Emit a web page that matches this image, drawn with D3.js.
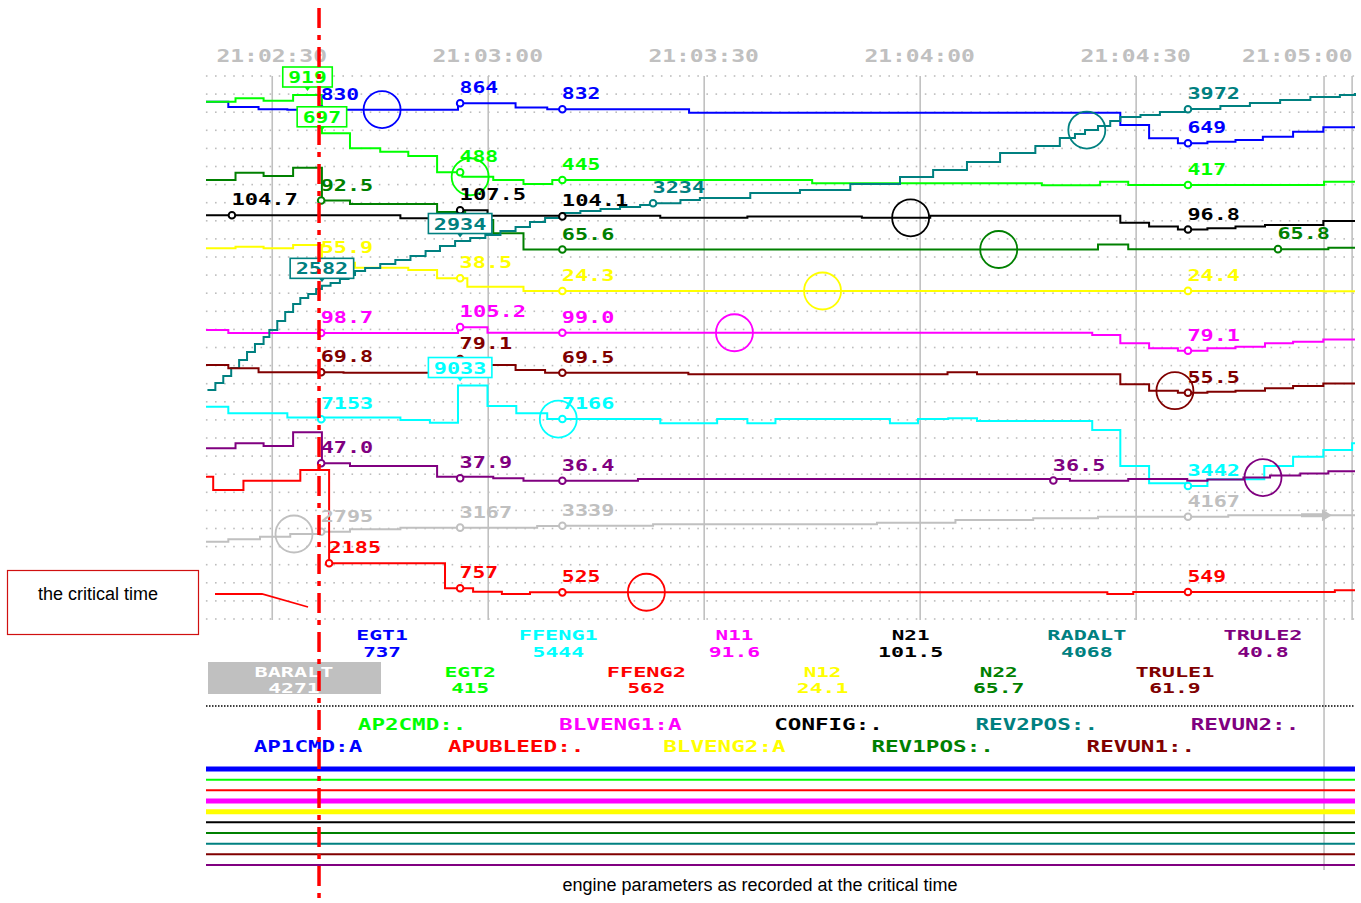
<!DOCTYPE html>
<html>
<head>
<meta charset="utf-8">
<script src="https://cdn.jsdelivr.net/npm/d3@7"></script>
<style>
  body { margin: 0; background: #fff; }
  .mono { font-family: "DejaVu Sans Mono", monospace; font-weight: bold; }
  .sans { font-family: "Liberation Sans", Arial, sans-serif; }
</style>
</head>
<body>
<svg id="chart" width="1361" height="903"></svg>
<script>
// --- Data (times are seconds after 21:02:00) ---
const tickLabels = ["21:02:30", "21:03:00", "21:03:30", "21:04:00", "21:04:30", "21:05:00"];
const criticalTime = 36.5;
const cursorTime = 176.1;

const baralt = [[20.8,1880],[23.9,2100],[28.3,2337],[32.5,2585],[36.7,2795],[40.8,3015],[47.8,3167],[66.8,3317],[70.3,3339],[82.9,3472],[114.0,3619],[124.9,3866],[135.7,4021],[144.7,4167],[162.8,4300],[180.4,4300]];
const egt1 = [[20.8,873],[23.9,844],[28.1,832],[32.1,830],[55.8,864],[63.8,842],[68.2,832],[87.9,813],[147.8,747],[151.8,676],[155.8,649],[159.9,658],[163.8,667],[167.6,684],[171.8,711],[176.0,735],[180.4,735]];
const egt2 = [[20.8,882],[24.9,901],[28.8,887],[32.9,919],[36.9,705],[40.8,622],[45.0,603],[48.9,579],[52.9,488],[56.4,463],[60.7,445],[64.9,423],[68.9,445],[105.0,427],[136.9,415],[145.0,435],[148.9,417],[176.1,435],[180.4,435]];
const ffeng1 = [[20.8,7854],[23.9,7487],[32.1,7250],[47.8,7114],[51.9,6964],[55.8,9033],[59.9,7892],[63.9,7487],[68.2,7166],[83.9,6931],[91.8,7166],[96.0,6931],[99.9,7166],[115.8,6931],[119.7,7166],[123.9,7209],[127.9,7058],[143.9,6558],[147.8,4556],[151.8,3595],[156.8,3442],[159.9,3817],[167.8,4556],[171.8,5074],[176.0,5446],[180.0,5819],[180.4,5819]];
const ffeng2 = [[20.8,7130],[21.8,6370],[26.0,6900],[33.9,7512],[37.9,2185],[54.0,757],[57.9,563],[61.9,432],[65.8,530],[146.0,432],[149.6,549],[177.6,640],[180.4,640]];
const n11 = [[20.8,102.0],[23.9,98.7],[55.8,105.2],[59.9,99.0],[143.9,96.5],[147.8,87.3],[151.8,81.8],[155.8,79.1],[159.9,81.8],[163.8,83.5],[167.9,87.3],[171.8,89.1],[176.0,91.6],[180.4,91.6]];
const n12 = [[20.8,72.1],[24.9,73.8],[28.8,72.1],[32.9,75.7],[36.9,55.9],[41.5,50.4],[48.9,47.8],[52.9,38.5],[57.1,29.1],[64.9,24.3],[148.9,24.4],[176.0,24.1],[180.4,24.1]];
const n21 = [[20.8,104.7],[47.8,103.0],[51.9,103.5],[55.8,107.5],[59.9,104.4],[83.9,103.3],[96.0,104.0],[111.9,103.3],[121.4,104.4],[147.8,100.6],[151.8,98.4],[155.8,96.8],[159.9,97.5],[163.8,98.4],[167.9,99.3],[176.0,101.5],[180.4,101.5]];
const n22 = [[20.8,103.8],[24.9,107.8],[28.8,105.9],[32.9,110.5],[36.9,92.5],[40.8,90.6],[52.9,86.2],[56.8,81.8],[60.7,74.5],[64.9,65.6],[144.7,68.4],[148.9,65.8],[176.7,66.6],[180.4,66.6]];
const radalt = [[21.0,1768],[22.1,1823],[23.2,1878],[24.3,1941],[25.4,2004],[26.5,2067],[27.6,2130],[28.8,2184],[29.6,2239],[30.7,2310],[31.8,2381],[32.9,2443],[33.9,2491],[35.0,2522],[36.1,2561],[36.9,2586],[38.1,2608],[39.4,2640],[40.6,2671],[41.5,2703],[42.9,2726],[45.0,2758],[47.1,2789],[49.2,2820],[51.3,2860],[53.3,2899],[55.4,2938],[57.5,2962],[59.6,2985],[61.7,3017],[63.8,3048],[65.8,3087],[67.9,3119],[70.3,3158],[72.8,3174],[75.6,3189],[78.3,3205],[81.1,3221],[82.9,3234],[86.7,3260],[89.4,3276],[96.4,3315],[103.3,3338],[110.3,3386],[117.2,3441],[121.8,3496],[126.5,3558],[131.1,3629],[136.0,3683],[139.4,3747],[141.5,3778],[142.9,3809],[144.7,3841],[146.4,3880],[147.8,3911],[150.6,3927],[153.3,3950],[157.1,3974],[161.7,3998],[165.8,4021],[170.0,4045],[174.2,4069],[178.3,4084],[180.4,4100]];
const trule1 = [[20.8,74.9],[23.9,72.6],[28.1,69.8],[39.9,69.5],[52.9,79.1],[59.9,74.9],[63.8,71.4],[67.9,69.5],[87.8,68.4],[123.8,69.8],[127.9,68.4],[147.8,61.4],[151.8,56.9],[155.8,55.5],[159.9,56.2],[163.8,56.9],[167.9,58.6],[171.8,60.2],[176.0,61.9],[180.4,61.9]];
const trule2 = [[20.8,56.2],[24.9,59.2],[28.8,57.6],[32.9,65.9],[36.9,47.0],[40.8,45.4],[52.9,38.8],[60.7,37.9],[64.9,36.4],[80.8,37.4],[140.8,36.4],[148.9,37.4],[157.1,36.4],[159.9,37.2],[164.9,38.3],[168.6,39.6],[172.8,40.8],[176.7,42.2],[180.4,42.2]];

// labelled samples [time, value]
const baraltMarks = [[36.8,2795],[56.1,3167],[70.3,3339],[157.2,4167]];
const egt1Marks = [[36.8,830],[56.1,864],[70.3,832],[157.2,649]];
const egt2Marks = [[56.1,488],[70.3,445],[157.2,417]];
const ffeng1Marks = [[36.8,7153],[70.3,7166],[157.2,3442]];
const ffeng2Marks = [[37.9,2185],[56.1,757],[70.3,525],[157.2,549]];
const n11Marks = [[36.8,98.7],[56.1,105.2],[70.3,99.0],[157.2,79.1]];
const n12Marks = [[36.8,55.9],[56.1,38.5],[70.3,24.3],[157.2,24.4]];
const n21Marks = [[24.4,104.7],[56.1,107.5],[70.3,104.1],[157.2,96.8]];
const n22Marks = [[36.8,92.5],[70.3,65.6],[169.7,65.8]];
const radaltMarks = [[82.9,3234],[157.2,3972]];
const trule1Marks = [[36.8,69.8],[56.1,79.1],[70.3,69.5],[157.2,55.5]];
const trule2Marks = [[36.8,47.0],[56.1,37.9],[70.3,36.4],[138.5,36.5]];

// boxed (tagged) values
const egt2Tags = [[34.9,919],[36.9,697]];
const radaltTags = [[36.9,2582],[56.1,2934]];
const ffeng1Tags = [[56.1,9033]];

// values at the cursor
const legendValues = [4271, 737, 415, 5444, 562, 91.6, 24.1, 101.5, 65.7, 4068, 61.9, 40.8];
const selectedParam = "BARALT";

// discrete parameters
const discreteNames = ["AP1CMD", "AP2CMD", "APUBLEED", "BLVENG1", "BLVENG2", "CONFIG", "REV1POS", "REV2POS", "REVUN1", "REVUN2"];
const discreteStates = ["A", ".", ".", "A", "A", ".", ".", ".", ".", "."];
const discreteColors = ["#0000ff", "#00ff00", "#ff0000", "#ff00ff", "#ffff00", "#000000", "#008000", "#008080", "#800000", "#800080"];

// --- Series table ---
const series = [
  { name: "BARALT", color: "#c0c0c0", data: baralt, marks: baraltMarks, tags: [], domain: [2795, 4167], range: [531.7, 516.7], dec: 0 },
  { name: "EGT1", color: "#0000ff", data: egt1, marks: egt1Marks, tags: [], domain: [649, 864], range: [143.3, 103.3], dec: 0 },
  { name: "EGT2", color: "#00ff00", data: egt2, marks: egt2Marks, tags: egt2Tags, domain: [417, 919], range: [185, 95], dec: 0 },
  { name: "FFENG1", color: "#00ffff", data: ffeng1, marks: ffeng1Marks, tags: ffeng1Tags, domain: [3442, 7153], range: [486, 419.3], dec: 0 },
  { name: "FFENG2", color: "#ff0000", data: ffeng2, marks: ffeng2Marks, tags: [], domain: [757, 2185], range: [588.3, 563.3], dec: 0 },
  { name: "N11", color: "#ff00ff", data: n11, marks: n11Marks, tags: [], domain: [79.1, 98.7], range: [350.7, 333], dec: 1 },
  { name: "N12", color: "#ffff00", data: n12, marks: n12Marks, tags: [], domain: [24.3, 38.5], range: [291, 278.3], dec: 1 },
  { name: "N21", color: "#000000", data: n21, marks: n21Marks, tags: [], domain: [96.8, 104.7], range: [229.5, 215.3], dec: 1 },
  { name: "N22", color: "#008000", data: n22, marks: n22Marks, tags: [], domain: [65.6, 92.5], range: [249.5, 200.5], dec: 1 },
  { name: "RADALT", color: "#008080", data: radalt, marks: radaltMarks, tags: radaltTags, domain: [3234, 3972], range: [203.3, 109.3], dec: 0 },
  { name: "TRULE1", color: "#800000", data: trule1, marks: trule1Marks, tags: [], domain: [55.5, 69.5], range: [392.7, 372.7], dec: 1 },
  { name: "TRULE2", color: "#800080", data: trule2, marks: trule2Marks, tags: [], domain: [36.4, 47.0], range: [480.7, 463.3], dec: 1 },
];
series.forEach(s => { s.y = d3.scaleLinear().domain(s.domain).range(s.range); s.fmt = d3.format(s.dec ? ".1f" : "d"); });

// --- Scales ---
const svg = d3.select("#chart");
const t0 = new Date(1900, 0, 1, 21, 2, 0);
const at = s => new Date(t0.getTime() + s * 1000);
const x = d3.scaleTime().domain([at(20.8), at(180.4)]).range([206, 1355]);
const plotTop = 76, plotBottom = 620;
const parseTick = d3.timeParse("%H:%M:%S");
const tickDates = tickLabels.map(parseTick);
const legendX = d3.scalePoint().domain(series.map(s => s.name)).range([294, 1263]);

// bitmap-like text: wide glyphs on a fixed pitch (call after .text())
function mono(sel, size, pitch) {
  sel.attr("class", "mono").style("font-size", size + "px")
    .attr("lengthAdjust", "spacingAndGlyphs")
    .attr("textLength", function () { return this.textContent.length * pitch - 3.5; });
  return sel;
}

function valueAt(data, s) {
  let v = data[0][1];
  data.forEach(d => { if (d[0] <= s) v = d[1]; });
  return v;
}

// --- Dot grid ---
const dotRows = d3.range(31).map(i => plotTop + i * 18.1);
const dotCols = d3.range(206.7, 1356, 9.1);
const gDots = svg.append("g").attr("fill", "#bdbdbd");
dotRows.forEach(yy => {
  gDots.selectAll(null).data(dotCols).enter().append("rect")
    .attr("x", d => d - 0.8).attr("y", yy - 0.8).attr("width", 1.6).attr("height", 1.6);
});

// --- Time grid + axis ---
svg.append("g").selectAll("line").data(tickDates).enter().append("line")
  .attr("x1", d => x(d)).attr("x2", d => x(d))
  .attr("y1", plotTop).attr("y2", plotBottom)
  .attr("stroke", "#c0c0c0").attr("stroke-width", 1.6);

svg.append("line")
  .attr("x1", x(at(cursorTime))).attr("x2", x(at(cursorTime)))
  .attr("y1", plotTop).attr("y2", 870)
  .attr("stroke", "#c0c0c0").attr("stroke-width", 1.6);

const gAxis = svg.append("g").attr("transform", "translate(0,62)")
  .call(d3.axisTop(x).tickValues(tickDates).tickFormat(d3.timeFormat("%H:%M:%S")).tickSize(0).tickPadding(0));
gAxis.select(".domain").remove();
gAxis.attr("font-family", null).attr("font-size", null);
mono(gAxis.selectAll("text"), 17, 14.25).attr("fill", "#c0c0c0").attr("dx", -1);
gAxis.selectAll(".tick text").filter((d, i, n) => i === n.length - 1)
  .attr("text-anchor", "end").attr("dx", 0);

// --- Series lines ---
const gLines = svg.append("g");
series.forEach(s => {
  const line = d3.line().x(d => x(at(d[0]))).y(d => s.y(d[1])).curve(d3.curveStepAfter);
  gLines.append("path").datum(s.data)
    .attr("d", line).attr("fill", "none")
    .attr("stroke", s.color).attr("stroke-width", 2);
});

// gray arrow at the end of BARALT
const arrowY = series[0].y(valueAt(baralt, 175));
const ax1 = x(at(172.9)), ax2 = x(at(177.2));
svg.append("line").attr("x1", ax1).attr("x2", ax2 - 8).attr("y1", arrowY).attr("y2", arrowY)
  .attr("stroke", "#c0c0c0").attr("stroke-width", 4);
svg.append("path").attr("d", `M${ax2 - 10},${arrowY - 6}L${ax2},${arrowY}L${ax2 - 10},${arrowY + 6}Z`).attr("fill", "#c0c0c0");

// --- Identifier circles ---
series.forEach(s => {
  const cx = legendX(s.name);
  svg.append("circle")
    .attr("cx", cx).attr("cy", s.y(valueAt(s.data, (x.invert(cx) - t0) / 1000)))
    .attr("r", 18.5).attr("fill", "none").attr("stroke", s.color).attr("stroke-width", 1.8);
});

// --- Sample markers + labels ---
series.forEach(s => {
  const g = svg.append("g");
  g.selectAll("circle").data(s.marks).enter().append("circle")
    .attr("cx", d => x(at(d[0]))).attr("cy", d => s.y(d[1]))
    .attr("r", 3.3).attr("fill", "#fff").attr("stroke", s.color).attr("stroke-width", 2);
  const labels = g.selectAll("text").data(s.marks).enter().append("text")
    .attr("x", d => x(at(d[0])) - 0.5).attr("y", d => s.y(d[1]) - 10)
    .attr("fill", s.color)
    .text(d => s.fmt(d[1]));
  mono(labels, 16, 14);
});

// --- Tagged (boxed) values ---
series.forEach(s => {
  s.tags.forEach(d => {
    const tx = x(at(d[0])), ty = s.y(d[1]);
    const label = s.fmt(d[1]);
    const w = label.length * 14 - 3.5 + 11, bottom = ty - 8;
    const g = svg.append("g");
    g.append("rect").attr("x", tx - w / 2).attr("y", bottom - 20).attr("width", w).attr("height", 20)
      .attr("fill", "#fff").attr("stroke", s.color).attr("stroke-width", 1.6);
    g.append("path").attr("d", `M${tx - 3},${bottom}L${tx + 3},${bottom}L${tx},${bottom + 4}Z`).attr("fill", s.color);
    mono(g.append("text").attr("x", tx).attr("y", bottom - 4)
      .attr("text-anchor", "middle").attr("fill", s.color).text(label), 16, 14);
  });
});

// --- Legend (values at the cursor) ---
const gLegend = svg.append("g");
series.forEach((s, i) => {
  const lx = legendX(s.name);
  const top = i % 2 === 0 ? 676.5 : 640;
  const selected = s.name === selectedParam;
  if (selected) {
    gLegend.append("rect").attr("x", lx - 86).attr("y", top - 14.5).attr("width", 173).attr("height", 32).attr("fill", "#c0c0c0");
  }
  [s.name, s.fmt(legendValues[i])].forEach((t, j) => {
    mono(gLegend.append("text")
      .attr("x", lx).attr("y", top + j * 16.5).attr("text-anchor", "middle")
      .attr("fill", selected ? "#fff" : s.color).text(t), 14, 13.75);
  });
});

// separator
svg.append("line").attr("x1", 206).attr("x2", 1355).attr("y1", 706).attr("y2", 706)
  .attr("stroke", "#000").attr("stroke-width", 1.5).attr("stroke-dasharray", "1.5,1.5");

// --- Discrete parameters ---
const discreteX = d3.scalePoint().domain(discreteNames).range([308, 1245]);
const discreteY = d3.scalePoint().domain(discreteNames).range([769, 865]);
discreteNames.forEach((n, i) => {
  mono(svg.append("text")
    .attr("x", discreteX(n)).attr("y", i % 2 === 0 ? 752 : 730).attr("text-anchor", "middle")
    .attr("fill", discreteColors[i])
    .text(n + ":" + discreteStates[i]), 15.5, 14);
  svg.append("line").attr("x1", 206).attr("x2", 1355)
    .attr("y1", discreteY(n)).attr("y2", discreteY(n))
    .attr("stroke", discreteColors[i]).attr("stroke-width", discreteStates[i] === "A" ? 5 : 2);
});

// --- Critical time annotation ---
const cx = x(at(criticalTime));
svg.append("line").attr("x1", cx).attr("x2", cx).attr("y1", 8).attr("y2", 903)
  .attr("stroke", "#ff0000").attr("stroke-width", 3.5).attr("stroke-dasharray", "20,7,5,7");

svg.append("rect").attr("x", 7.5).attr("y", 570.5).attr("width", 191).attr("height", 64)
  .attr("fill", "none").attr("stroke", "#d01010").attr("stroke-width", 1.2);
svg.append("text").attr("class", "sans").attr("x", 98).attr("y", 600).attr("text-anchor", "middle")
  .style("font-size", "18px").attr("fill", "#000").text("the critical time");
svg.append("path").attr("d", `M215,594L262,594L${cx - 11},607`)
  .attr("fill", "none").attr("stroke", "#ff0000").attr("stroke-width", 1.8);

svg.append("text").attr("class", "sans").attr("x", 760).attr("y", 891).attr("text-anchor", "middle")
  .style("font-size", "18px").attr("fill", "#000").text("engine parameters as recorded at the critical time");
</script>
</body>
</html>
